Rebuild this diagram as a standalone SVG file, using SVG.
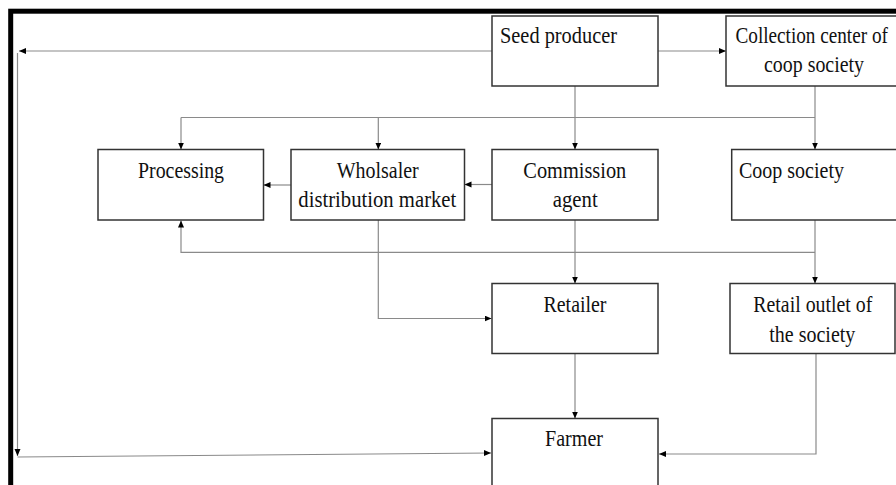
<svg xmlns="http://www.w3.org/2000/svg" width="896" height="485" viewBox="0 0 896 485">
<style>
.box{fill:#fff;stroke:#333;stroke-width:1.5}
.lbl{font-family:"Liberation Serif","Times New Roman",serif;font-size:24px;fill:#111}
.con{fill:none;stroke:#8a8a8a;stroke-width:1.2}
</style>
<defs>
<marker id="ah" markerUnits="userSpaceOnUse" markerWidth="8" markerHeight="8" refX="7" refY="3" orient="auto">
<path d="M0,0 L7,3 L0,6 z" fill="#000"/>
</marker>
</defs>
<rect x="0" y="0" width="896" height="485" fill="#fff"/>
<rect x="10.7" y="11.2" width="1000" height="1000" fill="none" stroke="#000" stroke-width="5"/>
<g id="connectors">
<path class="con" d="M492,51 H19" marker-end="url(#ah)"/>
<path class="con" d="M17.5,53 V456" marker-end="url(#ah)"/>
<path class="con" d="M17.5,457 L491,453" marker-end="url(#ah)"/>
<path class="con" d="M658,51 H726" marker-end="url(#ah)"/>
<path class="con" d="M575,86 V149.5" marker-end="url(#ah)"/>
<path class="con" d="M815,86 V149.5" marker-end="url(#ah)"/>
<path class="con" d="M181,117.5 H815"/>
<path class="con" d="M378.3,117.5 V149.5" marker-end="url(#ah)"/>
<path class="con" d="M181,117.5 V149.5" marker-end="url(#ah)"/>
<path class="con" d="M492,184.5 H464.5" marker-end="url(#ah)"/>
<path class="con" d="M291,185 H263.5" marker-end="url(#ah)"/>
<path class="con" d="M815,220 V283.5" marker-end="url(#ah)"/>
<path class="con" d="M815,252.3 H181 V220.5" marker-end="url(#ah)"/>
<path class="con" d="M575,220 V283.5" marker-end="url(#ah)"/>
<path class="con" d="M378.3,220 V318.5 H491.5" marker-end="url(#ah)"/>
<path class="con" d="M575,353.5 V418.5" marker-end="url(#ah)"/>
<path class="con" d="M816,353.5 V454 H659" marker-end="url(#ah)"/>
</g>
<g id="seed-producer">
<rect class="box" x="492" y="16" width="166" height="70"/>
<text class="lbl" x="500" y="43.3" textLength="117" lengthAdjust="spacingAndGlyphs">Seed producer</text>
</g>
<g id="collection-center">
<rect class="box" x="726" y="16" width="180" height="70"/>
<text class="lbl" transform="translate(735.5,43.3) scale(0.8,1)" x="0" y="0">Collection center of</text>
<text class="lbl" x="764" y="71.7" textLength="100" lengthAdjust="spacingAndGlyphs">coop society</text>
</g>
<g id="processing">
<rect class="box" x="98" y="149.5" width="165.5" height="70.5"/>
<text class="lbl" x="138" y="178.3" textLength="86" lengthAdjust="spacingAndGlyphs">Processing</text>
</g>
<g id="wholesaler">
<rect class="box" x="291" y="149.5" width="173.5" height="70.5"/>
<text class="lbl" x="336.7" y="178.3" textLength="82" lengthAdjust="spacingAndGlyphs">Wholsaler</text>
<text class="lbl" x="298.3" y="206.7" textLength="158" lengthAdjust="spacingAndGlyphs">distribution market</text>
</g>
<g id="commission-agent">
<rect class="box" x="492" y="149.5" width="166" height="70.5"/>
<text class="lbl" x="523.3" y="178.3" textLength="103" lengthAdjust="spacingAndGlyphs">Commission</text>
<text class="lbl" x="552.7" y="206.7" textLength="45" lengthAdjust="spacingAndGlyphs">agent</text>
</g>
<g id="coop-society">
<rect class="box" x="731.7" y="149.5" width="180" height="70.5"/>
<text class="lbl" x="739" y="178" textLength="105" lengthAdjust="spacingAndGlyphs">Coop society</text>
</g>
<g id="retailer">
<rect class="box" x="492" y="283.5" width="166" height="70"/>
<text class="lbl" x="543.5" y="312.3" textLength="63" lengthAdjust="spacingAndGlyphs">Retailer</text>
</g>
<g id="retail-outlet">
<rect class="box" x="730" y="283.5" width="165" height="70"/>
<text class="lbl" x="753.3" y="312" textLength="119" lengthAdjust="spacingAndGlyphs">Retail outlet of</text>
<text class="lbl" x="769.3" y="341.7" textLength="86" lengthAdjust="spacingAndGlyphs">the society</text>
</g>
<g id="farmer">
<rect class="box" x="492" y="418.5" width="166" height="100"/>
<text class="lbl" x="545" y="445.7" textLength="58" lengthAdjust="spacingAndGlyphs">Farmer</text>
</g>
</svg>
